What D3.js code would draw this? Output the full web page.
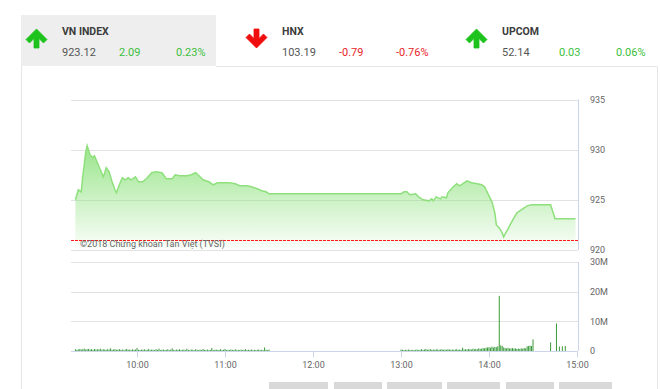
<!DOCTYPE html>
<html>
<head>
<meta charset="utf-8">
<script src="https://cdn.jsdelivr.net/npm/d3@7"></script>
<style>
  body { margin: 0; background: #fff; }
  svg { display: block; font-family: Roboto, "Noto Sans", sans-serif; }
</style>
</head>
<body>
<script>
const width = 660;
const height = 389;

// header quotes
const indexNames = ["VN INDEX", "HNX", "UPCOM"];
const indexValues = ["923.12", "103.19", "52.14"];
const indexChanges = ["2.09", "-0.79", "0.03"];
const indexPercents = ["0.23%", "-0.76%", "0.06%"];
const indexUp = [true, false, true];

// intraday VN-Index
const priceTimes = ["9:18", "9:20", "9:22", "9:23", "9:25", "9:26", "9:28", "9:30", "9:31", "9:33",
  "9:35", "9:37", "9:38", "9:39", "9:41", "9:43", "9:45", "9:46", "9:48", "9:50",
  "9:52", "9:54", "9:56", "9:59", "10:01", "10:04", "10:07", "10:10", "10:13", "10:17",
  "10:20", "10:24", "10:26", "10:29", "10:34", "10:37", "10:40", "10:43", "10:45", "10:49",
  "10:52", "10:55", "11:00", "11:03", "11:07", "11:10", "11:15", "11:18", "11:22", "11:25",
  "11:28", "11:30",
  "13:00", "13:02", "13:04", "13:06", "13:10", "13:12", "13:15", "13:19", "13:21", "13:22",
  "13:24", "13:27", "13:28", "13:31", "13:32", "13:35", "13:38", "13:40", "13:43", "13:45",
  "13:48", "13:52", "13:55", "13:57", "13:59", "14:02", "14:04", "14:05", "14:07", "14:09",
  "14:10", "14:11", "14:13", "14:14", "14:17", "14:19", "14:21", "14:23", "14:26", "14:29",
  "14:42", "14:45", "14:59"];
const priceValues = [925.0, 926.0, 925.8, 927.3, 929.7, 930.4, 929.5, 929.2, 929.4, 928.7,
  928.0, 927.3, 927.7, 928.2, 927.8, 926.8, 926.0, 925.7, 926.5, 927.2,
  927.0, 927.2, 927.0, 927.3, 926.8, 926.8, 927.2, 927.7, 927.8, 927.7,
  927.1, 927.1, 927.5, 927.4, 927.4, 927.5, 927.7, 927.3, 927.0, 926.8,
  926.5, 926.7, 926.7, 926.7, 926.6, 926.4, 926.4, 926.3, 926.1, 925.9,
  925.8, 925.6,
  925.6, 925.8, 925.8, 925.5, 925.6, 925.3, 925.0, 924.9, 925.1, 924.9,
  925.3, 925.1, 925.3, 925.2, 925.7, 926.2, 926.6, 926.4, 926.7, 926.9,
  926.7, 926.6, 926.5, 926.3, 925.7, 924.8, 923.7, 922.5, 922.2, 921.7,
  921.3, 921.6, 922.1, 922.4, 923.2, 923.7, 923.9, 924.1, 924.4, 924.5,
  924.5, 923.12, 923.12];
const prevClose = 921.03;

// volume per minute, millions
const morningStart = "9:18";
const morningVolume = [0.6, 0.4, 0.5, 0.7, 0.5, 0.6, 0.8, 0.5, 0.6, 0.7,
  0.5, 0.6, 0.4, 0.7, 0.5, 0.6, 0.5, 0.8, 0.4, 0.6,
  0.5, 0.4, 0.6, 0.5, 0.9, 0.4, 0.5, 0.6, 0.4, 0.5,
  0.6, 0.4, 0.5, 0.3, 0.5, 0.7, 0.4, 0.5, 0.3, 0.6,
  0.4, 0.5, 1.0, 0.4, 0.3, 0.5, 0.4, 0.6, 0.3, 0.4,
  0.7, 0.3, 0.5, 0.4, 0.3, 0.6, 0.4, 0.8, 0.3, 0.4,
  0.5, 0.3, 0.4, 0.6, 0.3, 0.5, 0.9, 0.4, 0.3, 0.5,
  0.4, 0.6, 0.3, 0.4, 0.5, 0.3, 0.8, 0.4, 0.3, 0.5,
  0.4, 0.3, 0.6, 0.4, 0.3, 0.5, 0.3, 0.7, 0.4, 0.3,
  0.5, 0.3, 0.4, 1.0, 0.3, 0.4, 0.5, 0.3, 0.4, 0.6,
  0.3, 0.4, 0.7, 0.3, 0.4, 0.3, 0.5, 0.4, 0.3, 0.6,
  0.3, 0.4, 0.3, 0.5, 0.3, 0.4, 0.6, 0.3, 0.4, 0.3,
  0.5, 0.3, 0.4, 0.3, 0.4, 0.5, 0.3, 0.4, 0.3, 1.2,
  0.4, 0.3, 0.5];
const afternoonStart = "13:00";
const afternoonVolume = [0.5, 0.4, 0.3, 0.4, 0.3, 0.5, 0.4, 0.3, 0.4, 0.3,
  0.4, 0.5, 0.3, 0.4, 0.6, 0.4, 0.5, 0.7, 0.4, 0.5,
  0.6, 0.4, 0.5, 0.4, 0.6, 0.5, 0.4, 0.5, 0.6, 0.4,
  0.5, 0.4, 0.6, 0.5, 0.4, 0.5, 0.4, 0.5, 0.6, 0.4,
  0.5, 0.4, 1.1, 0.5, 0.6, 0.5, 0.7, 0.6, 0.5, 0.8,
  0.6, 0.7, 0.6, 0.9, 0.7, 0.8, 1.0, 0.9, 1.1, 1.2,
  1.3, 1.1, 1.5, 1.2, 1.4, 1.3, 1.6, 18.6, 1.9, 1.7,
  1.2, 1.0, 0.9, 1.1, 0.8, 0.9, 1.0, 0.8, 0.9, 0.7,
  0.8, 0.7, 0.9, 0.8, 1.0, 0.9, 1.6, 1.7, 1.8, 1.7,
  3.9];
const lateTimes = ["14:42", "14:46", "14:48", "14:50", "14:52"];
const lateVolume = [2.9, 9.3, 1.5, 1.6, 1.7];

const priceTicks = [920, 925, 930, 935];
const volumeTicks = [0, 10, 20, 30];
const hourTicks = ["10:00", "11:00", "12:00", "13:00", "14:00", "15:00"];
const buttonCount = 6;

const parseTime = d3.timeParse("%H:%M");
const addMin = (t, m) => d3.timeMinute.offset(parseTime(t), m);

const price = priceTimes.map((t, i) => ({ date: parseTime(t), value: priceValues[i] }));
const volume = [
  ...morningVolume.map((v, i) => ({ date: addMin(morningStart, i), value: v })),
  ...afternoonVolume.map((v, i) => ({ date: addMin(afternoonStart, i), value: v })),
  ...lateTimes.map((t, i) => ({ date: parseTime(t), value: lateVolume[i] }))
];

const svg = d3.select('body').append('svg')
  .attr('width', width)
  .attr('height', height);

// ---- header tabs
svg.append('rect')
  .attr('x', 21).attr('y', 15).attr('width', 195).attr('height', 51)
  .attr('fill', '#eeeeee');

const tabX = [21, 241, 461];
const green = '#3cbf3c';
const red = '#e8262a';

const upArrow = "M0,-9.5 L10.5,1 L7,4.5 L2.5,0 L2.5,9.5 L-2.5,9.5 L-2.5,0 L-7,4.5 L-10.5,1 Z";

indexNames.forEach((name, i) => {
  const g = svg.append('g').attr('transform', `translate(${tabX[i]},0)`);
  g.append('path')
    .attr('d', upArrow)
    .attr('fill', indexUp[i] ? '#1dc21d' : '#f00d0d')
    .attr('stroke', indexUp[i] ? '#1dc21d' : '#f00d0d')
    .attr('stroke-width', 0.8)
    .attr('stroke-linejoin', 'round')
    .attr('transform', `translate(15.5,38.5) rotate(${indexUp[i] ? 0 : 180})`);
  g.append('text')
    .attr('x', 41).attr('y', 35)
    .attr('font-size', 10.5).attr('font-weight', 'bold')
    .attr('fill', '#3c3c3c')
    .text(name);
  const col = indexUp[i] ? green : red;
  g.append('text').attr('x', 41).attr('y', 56).attr('font-size', 11).attr('fill', '#555').text(indexValues[i]);
  g.append('text').attr('x', 98).attr('y', 56).attr('font-size', 11).attr('fill', col).text(indexChanges[i]);
  g.append('text').attr('x', 155).attr('y', 56).attr('font-size', 11).attr('fill', col).text(indexPercents[i]);
});

// panel border
svg.append('path')
  .attr('d', 'M21.5,66 V389 M216,66.5 H657.5 V389')
  .attr('fill', 'none')
  .attr('stroke', '#e6e6e6');

// ---- scales
const x = d3.scaleTime()
  .domain([parseTime("9:15"), parseTime("15:00")])
  .range([71, 577]);
const yPrice = d3.scaleLinear().domain([920, 935]).range([250, 99.5]);
const yVol = d3.scaleLinear().domain([0, 30]).range([351, 262]);
const plotLeft = 71, plotRight = 578;

// gridlines
svg.append('g').selectAll('line')
  .data(priceTicks).join('line')
  .attr('x1', plotLeft).attr('x2', plotRight)
  .attr('y1', d => Math.round(yPrice(d)) + 0.5).attr('y2', d => Math.round(yPrice(d)) + 0.5)
  .attr('stroke', '#e2e2e2');
svg.append('g').selectAll('line')
  .data(volumeTicks.slice(1)).join('line')
  .attr('x1', plotLeft).attr('x2', plotRight)
  .attr('y1', d => Math.round(yVol(d)) + 0.5).attr('y2', d => Math.round(yVol(d)) + 0.5)
  .attr('stroke', '#e2e2e2');

// right axis lines
svg.append('line')
  .attr('x1', plotRight + 0.5).attr('x2', plotRight + 0.5)
  .attr('y1', yPrice(935)).attr('y2', yPrice(920))
  .attr('stroke', '#ccd6eb');
svg.append('line')
  .attr('x1', plotRight + 0.5).attr('x2', plotRight + 0.5)
  .attr('y1', yVol(30)).attr('y2', yVol(0))
  .attr('stroke', '#ccd6eb');

// ---- price area
const grad = svg.append('defs').append('linearGradient')
  .attr('id', 'areaFill').attr('x1', 0).attr('y1', 0).attr('x2', 0).attr('y2', 1);
grad.append('stop').attr('offset', '0%').attr('stop-color', '#8fe27f').attr('stop-opacity', 0.9);
grad.append('stop').attr('offset', '100%').attr('stop-color', '#8fe27f').attr('stop-opacity', 0.03);

const area = d3.area()
  .x(d => x(d.date))
  .y0(yPrice(920))
  .y1(d => yPrice(d.value));
const line = d3.line()
  .x(d => x(d.date))
  .y(d => yPrice(d.value));

svg.append('path')
  .datum(price)
  .attr('d', area)
  .attr('fill', 'url(#areaFill)');
svg.append('path')
  .datum(price)
  .attr('d', line)
  .attr('fill', 'none')
  .attr('stroke', '#8ee07c')
  .attr('stroke-width', 1.5);

// previous close
const closeY = Math.round(yPrice(prevClose)) + 0.5;
svg.append('line')
  .attr('x1', plotLeft).attr('x2', plotRight)
  .attr('y1', closeY).attr('y2', closeY)
  .attr('stroke', '#ff1a1a')
  .attr('stroke-dasharray', '3,1');

svg.append('text')
  .attr('x', 80).attr('y', 247)
  .attr('font-size', 9)
  .attr('fill', '#666')
  .text('©2018 Chứng khoán Tân Việt (TVSI)');

// ---- volume bars
svg.append('g').selectAll('rect')
  .data(volume).join('rect')
  .attr('x', d => x(d.date) - 0.5)
  .attr('width', 1)
  .attr('y', d => yVol(d.value))
  .attr('height', d => yVol(0) - yVol(d.value))
  .attr('fill', '#3a9a3a');

// ---- axes
const yPriceAxis = d3.axisRight(yPrice).tickValues(priceTicks).tickSize(0).tickPadding(12);
svg.append('g')
  .attr('transform', `translate(${plotRight},0)`)
  .call(yPriceAxis)
  .call(g => g.select('.domain').remove())
  .call(g => g.selectAll('text').attr('fill', '#666').attr('font-size', 9).attr('font-family', 'Roboto'));

const yVolAxis = d3.axisRight(yVol).tickValues(volumeTicks)
  .tickFormat(d => d === 0 ? '0' : d + 'M').tickSize(0).tickPadding(12);
svg.append('g')
  .attr('transform', `translate(${plotRight},0)`)
  .call(yVolAxis)
  .call(g => g.select('.domain').remove())
  .call(g => g.selectAll('text').attr('fill', '#666').attr('font-size', 9).attr('font-family', 'Roboto'));

const xAxis = d3.axisBottom(x)
  .tickValues(hourTicks.map(parseTime))
  .tickFormat(d3.timeFormat('%H:%M'))
  .tickSize(6).tickPadding(4).tickSizeOuter(0);
svg.append('g')
  .attr('transform', `translate(0,${Math.round(yVol(0)) + 0.5})`)
  .call(xAxis)
  .call(g => g.select('.domain').attr('stroke', '#ccd6eb').attr('d', `M${plotLeft},0H${plotRight}`))
  .call(g => g.selectAll('.tick line').attr('stroke', '#ccd6eb'))
  .call(g => g.selectAll('text').attr('fill', '#666').attr('font-size', 9).attr('font-family', 'Roboto'));

// ---- range buttons at the bottom
const buttonX = [269, 334, 387, 447, 506, 559];
const buttonW = [59, 48, 55, 53, 48, 53];
svg.append('g').selectAll('rect')
  .data(d3.range(buttonCount)).join('rect')
  .attr('x', i => buttonX[i]).attr('y', 382)
  .attr('width', i => buttonW[i]).attr('height', 12)
  .attr('fill', '#d9d9d9');
</script>
</body>
</html>
